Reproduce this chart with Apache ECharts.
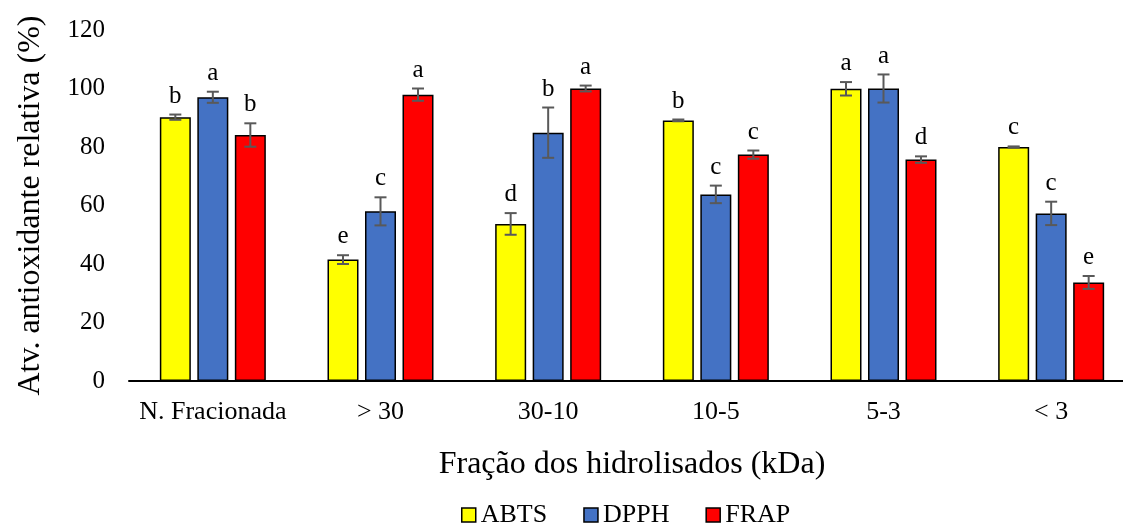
<!DOCTYPE html>
<html>
<head>
<meta charset="utf-8">
<script src="https://cdn.jsdelivr.net/npm/echarts@6/dist/echarts.min.js"></script>
<style>html,body{margin:0;padding:0;background:#fff;overflow:hidden;}#c{width:1123px;height:527px;}</style>
</head>
<body>
<div id="c"></div>
<script>
const categories = ['N. Fracionada', '> 30', '30-10', '10-5', '5-3', '< 3'];
const seriesNames = ['ABTS', 'DPPH', 'FRAP'];
const abts = [90.2, 41.5, 53.7, 89.1, 99.9, 80.0];
const dpph = [97.0, 58.0, 84.9, 63.8, 100.0, 57.3];
const frap = [84.1, 97.9, 100.0, 77.4, 75.7, 33.7];
const abtsErr = [0.9, 1.5, 3.7, 0.3, 2.3, 0.2];
const dpphErr = [1.9, 4.8, 8.6, 3.0, 4.8, 4.0];
const frapErr = [4.0, 2.1, 1.0, 1.4, 1.1, 2.2];
const abtsLetters = ['b', 'e', 'd', 'b', 'a', 'c'];
const dpphLetters = ['a', 'c', 'b', 'c', 'a', 'c'];
const frapLetters = ['b', 'a', 'a', 'c', 'd', 'e'];
const yTicks = [0, 20, 40, 60, 80, 100, 120];

const colors = ['#FFFF00', '#4472C4', '#FF0000'];
const values = [abts, dpph, frap];
const errs = [abtsErr, dpphErr, frapErr];
const letters = [abtsLetters, dpphLetters, frapLetters];
const FONT = '"Liberation Serif", "Times New Roman", serif';
const BW = 31, GAP = 6.5;

const chart = echarts.init(document.getElementById('c'), null, {renderer: 'canvas'});

const series = [];
seriesNames.forEach((name, i) => {
  series.push({
    name: name,
    type: 'bar',
    data: values[i],
    barWidth: BW,
    barGap: (GAP / BW * 100) + '%',
    itemStyle: {color: colors[i], borderColor: '#000', borderWidth: 1.5},
    emphasis: {disabled: true}
  });
});
seriesNames.forEach((name, i) => {
  series.push({
    type: 'custom',
    name: name + '_err',
    silent: true,
    z: 10,
    data: values[i].map((v, k) => [k, v, errs[i][k]]),
    renderItem: function (params, api) {
      const k = api.value(0);
      const v = api.value(1);
      const e = api.value(2);
      const letter = letters[i][k];
      const off = (i - 1) * (BW + GAP);
      const top = api.coord([k, v + e]);
      const bot = api.coord([k, v - e]);
      const x = top[0] + off;
      const cap = 6;
      const st = {stroke: '#595959', lineWidth: 2};
      return {
        type: 'group',
        children: [
          {type: 'line', shape: {x1: x, y1: top[1], x2: x, y2: bot[1]}, style: st},
          {type: 'line', shape: {x1: x - cap, y1: top[1], x2: x + cap, y2: top[1]}, style: st},
          {type: 'line', shape: {x1: x - cap, y1: bot[1], x2: x + cap, y2: bot[1]}, style: st},
          {type: 'text', style: {text: letter, x: x, y: top[1] - 6, align: 'center', verticalAlign: 'bottom',
            font: '25px ' + FONT, fill: '#000'}}
        ]
      };
    }
  });
});

chart.setOption({
  animation: false,
  backgroundColor: '#fff',
  textStyle: {fontFamily: FONT},
  grid: {left: 129, top: 30, width: 1006, height: 351, containLabel: false, outerBoundsMode: 'none'},
  legend: {
    data: seriesNames,
    top: 497,
    left: 456,
    icon: 'rect',
    itemWidth: 14,
    itemHeight: 14,
    itemGap: 36,
    textStyle: {fontSize: 26, fontFamily: FONT, color: '#000', padding: [0, 0, 0, 0]},
    itemStyle: {borderColor: '#000', borderWidth: 1.5}
  },
  xAxis: {
    type: 'category',
    data: categories,
    axisLine: {lineStyle: {color: '#000', width: 2}},
    axisTick: {show: false},
    axisLabel: {fontSize: 26, fontFamily: FONT, color: '#000', margin: 18, interval: 0},
    name: 'Fração dos hidrolisados (kDa)',
    nameLocation: 'middle',
    nameGap: 68,
    nameTextStyle: {fontSize: 32, fontFamily: FONT, color: '#000'}
  },
  yAxis: {
    type: 'value',
    min: yTicks[0],
    max: yTicks[yTicks.length - 1],
    interval: 20,
    axisLine: {show: false},
    axisTick: {show: false},
    splitLine: {show: false},
    axisLabel: {fontSize: 25, fontFamily: FONT, color: '#000', margin: 24},
    name: 'Atv. antioxidante relativa (%)',
    nameLocation: 'middle',
    nameGap: 82,
    nameRotate: 90,
    nameTextStyle: {fontSize: 32, fontFamily: FONT, color: '#000'}
  },
  series: series
});
</script>
</body>
</html>
